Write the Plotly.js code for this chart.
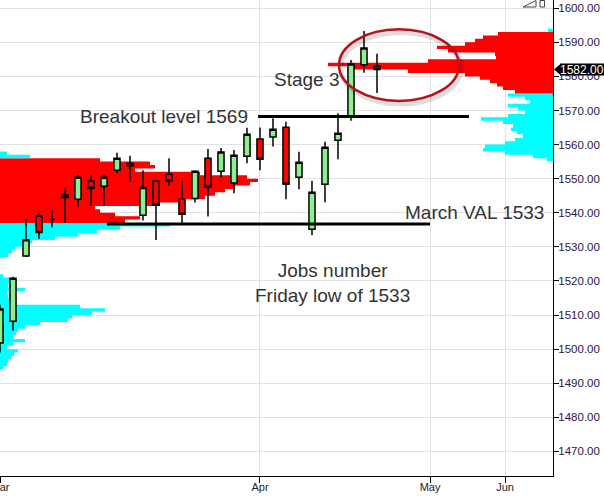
<!DOCTYPE html>
<html>
<head>
<meta charset="utf-8">
<script src="https://cdn.plot.ly/plotly-3.0.1.min.js"></script>
<style>html,body{margin:0;padding:0;background:#fff;}#chart{width:604px;height:496px;}</style>
</head>
<body>
<div id="chart"></div>
<script>
// ---- Candles (trading-day index, Mar 1 2013 = -1, Apr 1 = 19) ----
const tradingDay = [-1,0,1,2,3,4,5,6,7,8,9,10,11,12,13,14,15,16,17,18,19,20,21,22,23,24,25,26,27,28];
const openP  = [1501.8,1508.2,1527.3,1539.0,1538.0,1545.2,1544.0,1549.3,1547.8,1552.5,1554.5,1539.3,1549.3,1551.3,1544.0,1544.2,1556.0,1552.2,1548.7,1556.6,1561.6,1562.2,1565.1,1550.4,1535.2,1548.4,1561.3,1568.4,1583.4,1583.0];
const highP  = [1513.0,1521.2,1538.1,1540.0,1540.6,1547.2,1551.1,1551.2,1551.1,1557.6,1556.7,1552.5,1549.6,1556.0,1549.3,1552.5,1558.7,1559.0,1558.4,1564.9,1565.0,1567.7,1566.7,1557.9,1549.4,1560.8,1569.2,1584.8,1593.3,1586.6];
const lowP   = [1499.0,1505.5,1527.0,1532.3,1535.7,1537.0,1541.8,1542.0,1542.0,1551.6,1549.1,1537.7,1532.0,1548.0,1537.0,1543.0,1538.9,1550.4,1545.7,1554.5,1552.5,1559.4,1544.0,1546.9,1533.4,1543.1,1555.7,1567.0,1581.1,1575.1];
const closeP = [1511.8,1520.8,1532.1,1534.2,1538.0,1544.5,1550.4,1547.2,1550.4,1556.0,1553.7,1547.4,1542.2,1549.3,1539.6,1552.2,1547.5,1557.8,1556.9,1563.0,1555.7,1564.5,1548.4,1554.8,1546.0,1559.2,1563.3,1583.6,1588.3,1582.0];

// ---- Axis ticks ----
const monthTickVals = [-1, 19, 32.08, 37.85];
const monthTickText = ['Mar', 'Apr', 'May', 'Jun'];

// ---- Volume profile, left (March) : bin lower price, volume ----
const leftBins = [1557,1556,1555,1554,1553,1552,1551,1550,1549,1548,1547,1546,1545,1544,1543,1542,1541,1540,1539,1538,1537,1536,1535,1534,1533,1532,1531,1530,1529,1528,1527,1526,1525,1524,1523,1522,1521,1520,1519,1518,1517,1516,1515,1514,1513,1512,1511,1510,1509,1508,1507,1506,1505,1504,1503,1502,1501,1500,1499,1498,1497,1496,1495,1494];
const leftVol  = [7,30,100,150,155,135,200,247,258,250,235,225,215,205,180,160,95,100,115,140,125,170,120,97,78,55,32,30,15,12,8,0,0,0,0,0,3,10,15,8,25,7,8,10,14,80,105,92,72,68,40,25,18,16,13,25,13,7,18,14,11,8,7,3];
const leftVA = [1537, 1556];

// ---- Volume profile, right (current) ----
const rightBins = [1593,1592,1591,1590,1589,1588,1587,1586,1585,1584,1583,1582,1581,1580,1579,1578,1577,1576,1575,1574,1573,1572,1571,1570,1569,1568,1567,1566,1565,1564,1563,1562,1561,1560,1559,1558,1557,1556,1555];
const rightVol  = [5,55,70,78,88,116,105,58,57,125,225,200,145,88,73,63,56,50,38,45,28,23,45,35,28,45,72,50,40,42,36,30,38,48,68,70,48,20,6];
const rightVA = [1575, 1593];

// ---- Levels ----
const breakoutLevel = 1568.2;
const marchVAL = 1536.7;

const Y_MIN = 1462.8, Y_MAX = 1602.4;
const X_MIN = -1, X_MAX = 41.54;
const PW = 553, PH = 476;
const RED = '#FF0000', CYAN = '#00FFFF';

const px = v => v / PW;           // pixel -> paper x
const py = v => 1 - v / PH;       // pixel -> paper y
const yPaper = p => (p - Y_MIN) / (Y_MAX - Y_MIN);

// build stepped, filled profile polygons (one per colour run)
function profileTraces(bins, vols, va, xaxis) {
  const rows = bins.map((b, i) => ({b, v: vols[i]})).sort((a, c) => a.b - c.b);
  const out = [];
  let cur = null;
  rows.forEach(r => {
    const col = (r.b + 0.5 >= va[0] && r.b + 0.5 < va[1]) ? RED : CYAN;
    if (!cur || cur.col !== col) {
      if (cur) { cur.x.push(0); cur.y.push(cur.last); out.push(cur); }
      cur = {col, x:[0], y:[r.b], last:r.b};
    }
    cur.x.push(r.v, r.v); cur.y.push(r.b, r.b + 1); cur.last = r.b + 1;
  });
  if (cur) { cur.x.push(0); cur.y.push(cur.last); out.push(cur); }
  return out.map(s => ({type:'scatter', mode:'lines', xaxis, yaxis:'y', x:s.x, y:s.y,
    fill:'toself', fillcolor:s.col, line:{width:0, color:s.col}, hoverinfo:'skip'}));
}

const traces = [
  ...profileTraces(leftBins, leftVol, leftVA, 'x'),
  ...profileTraces(rightBins, rightVol, rightVA, 'x2'),
  {type:'candlestick', xaxis:'x3', yaxis:'y',
   x: tradingDay, open: openP, high: highP, low: lowP, close: closeP,
   increasing:{fillcolor:'#90EE90', line:{color:'#000', width:1.5}},
   decreasing:{fillcolor:'#FF0000', line:{color:'#000', width:1.5}},
   whiskerwidth: 0, hoverinfo:'skip'}
];

const lastClose = closeP[closeP.length - 1];
const tagY = yPaper(lastClose);
const tagH = 6 / PH;

const textFont = {family:'Liberation Sans, Arial, sans-serif', size:19, color:'#333333'};

const layout = {
  width: 604, height: 496,
  margin: {l:0, r:51, t:0, b:20, pad:0},
  paper_bgcolor:'#ffffff', plot_bgcolor:'#ffffff',
  showlegend:false, boxgap:0.33,
  xaxis: {range:[0, PW], visible:false, fixedrange:true},
  xaxis2:{range:[PW, 0], overlaying:'x', anchor:'y', visible:false, fixedrange:true},
  xaxis3:{range:[X_MIN, X_MAX], overlaying:'x', anchor:'y', side:'bottom',
          tickmode:'array', tickvals: monthTickVals, ticktext: monthTickText,
          showgrid:true, gridcolor:'#e2e2e2', gridwidth:1, zeroline:false,
          showline:true, linecolor:'#000', linewidth:1,
          ticks:'outside', ticklen:6, tickcolor:'#000', tickwidth:1, ticklabelstandoff:-5,
          ticklabeloverflow:'allow',
          tickfont:{family:'Liberation Sans, Arial, sans-serif', size:11, color:'#222'},
          rangeslider:{visible:false}, fixedrange:true},
  yaxis: {range:[Y_MIN, Y_MAX], side:'right', anchor:'x', dtick:10, tick0:1460,
          tickformat:'.2f', showgrid:true, gridcolor:'#e2e2e2', gridwidth:1, zeroline:false,
          showline:true, linecolor:'#000', linewidth:1,
          ticks:'outside', ticklen:5, tickcolor:'#000', tickwidth:1, ticklabelstandoff:-3,
          tickfont:{family:'Liberation Sans, Arial, sans-serif', size:11.5, color:'#2d1446'},
          fixedrange:true},
  shapes: [
    {type:'circle', xref:'x3', yref:'y', x0:25.22, x1:34.45, y0:1571.9, y1:1592.9,
     line:{color:'rgba(0,0,0,0.13)', width:5}},
    {type:'circle', xref:'x3', yref:'y', x0:25.08, x1:34.31, y0:1572.8, y1:1593.8,
     line:{color:'#B3151C', width:2.5}},
    {type:'line', xref:'x3', yref:'y', x0:18.85, x1:35.08, y0:breakoutLevel, y1:breakoutLevel,
     line:{color:'#000', width:3}},
    {type:'line', xref:'x3', yref:'y', x0:7.23, x1:32.08, y0:marchVAL, y1:marchVAL,
     line:{color:'#000', width:3}},
    {type:'path', xref:'paper', yref:'paper',
     path:`M ${px(554)},${tagY} L ${px(561)},${tagY + tagH} L ${px(561)},${tagY - tagH} Z`,
     fillcolor:'#000', line:{width:0}},
    {type:'rect', xref:'paper', yref:'paper', x0:px(560), x1:px(604), y0:tagY - tagH, y1:tagY + tagH,
     fillcolor:'#000', line:{width:0}},
    {type:'path', xref:'paper', yref:'paper',
     path:`M ${px(523)},${py(7)} L ${px(536)},${py(0.5)} L ${px(536)},${py(7)} Z`,
     fillcolor:'#fff', line:{color:'#444', width:1}},
    {type:'rect', xref:'paper', yref:'paper', x0:px(540), x1:px(544.5), y0:py(7), y1:py(0.5),
     fillcolor:'#fff', line:{color:'#444', width:1}}
  ],
  annotations: [
    {xref:'paper', yref:'paper', x:px(582), y:tagY, xanchor:'center', yanchor:'middle',
     text: lastClose.toFixed(2), showarrow:false,
     font:{family:'Liberation Sans, Arial, sans-serif', size:12, color:'#ffffff'}},
    {xref:'x3', yref:'y', x:22.58, y:1579.0, text:'Stage 3', showarrow:false,
     xanchor:'center', yanchor:'middle', font:textFont},
    {xref:'x3', yref:'y', x:18.23, y:breakoutLevel, text:'Breakout level 1569', showarrow:false,
     xanchor:'right', yanchor:'middle', font:textFont},
    {xref:'x3', yref:'y', x:30.0, y:1540.0, text:'March VAL 1533', showarrow:false,
     xanchor:'left', yanchor:'middle', font:textFont},
    {xref:'x3', yref:'y', x:24.54, y:1519.3, text:'Jobs number<br>Friday low of 1533', showarrow:false,
     xanchor:'center', yanchor:'middle', align:'center', font:textFont}
  ]
};

Plotly.newPlot('chart', traces, layout, {staticPlot:true, displayModeBar:false});
</script>
</body>
</html>
